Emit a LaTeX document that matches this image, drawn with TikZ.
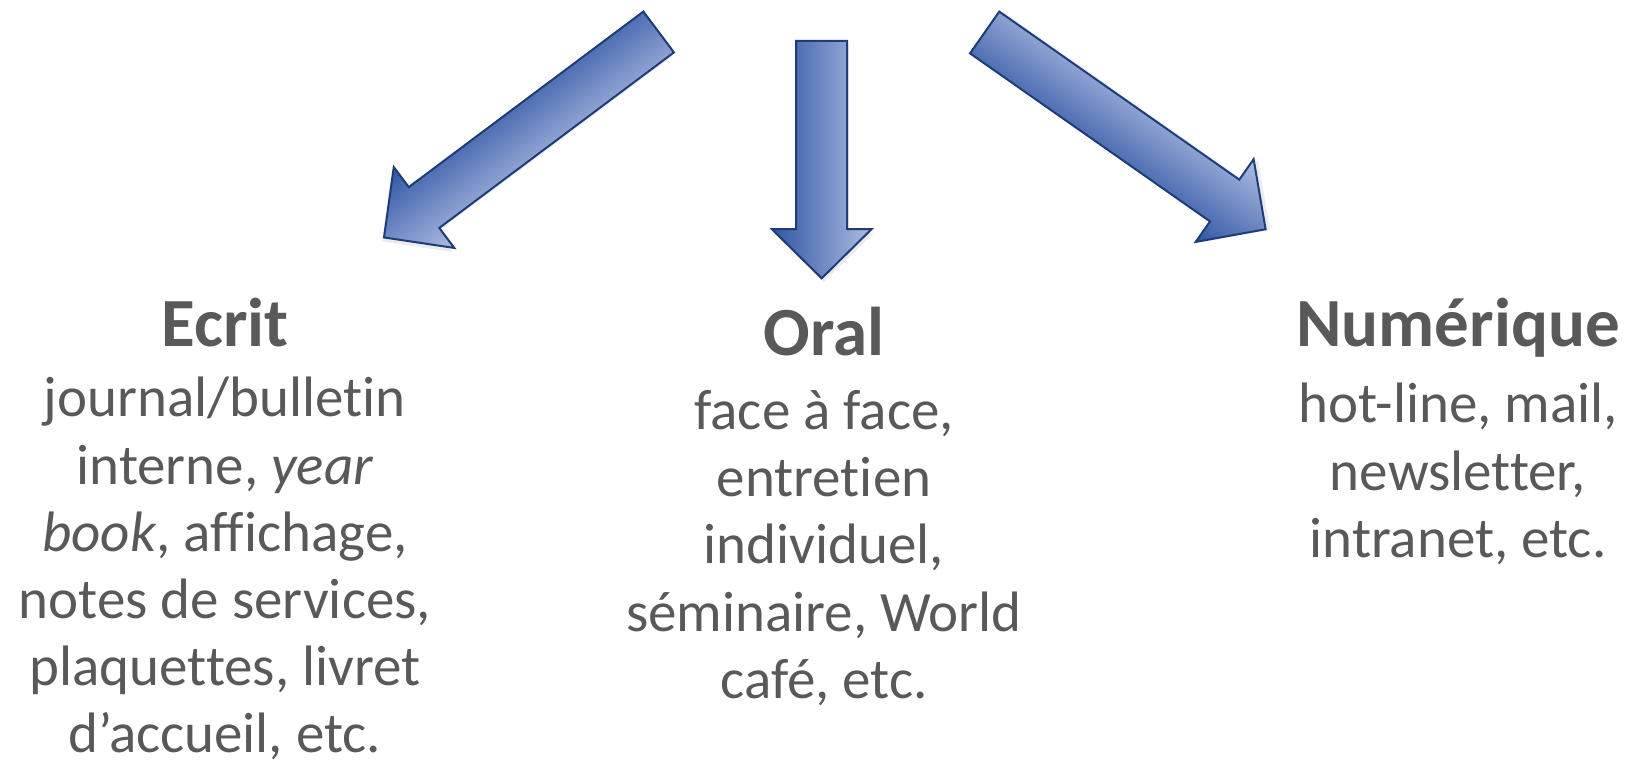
\documentclass[tikz,border=0pt]{standalone}
\usepackage{fontspec}
\setmainfont{Carlito}[Ligatures=NoCommon]
\usepackage{tikz}
\usetikzlibrary{positioning,shadows}
\definecolor{arrowdark}{HTML}{2F56A3}
\definecolor{arrowlight}{HTML}{AEBCE2}
\definecolor{arrowline}{HTML}{1F3C78}
\definecolor{textgray}{HTML}{595959}

\begin{document}
\begin{tikzpicture}[
    x=0.5pt, y=-0.5pt,
    every node/.style={text=textgray, inner sep=0pt},
    heading/.style={font=\fontsize{34.5}{40}\selectfont\bfseries, anchor=base},
    listing/.style={font=\fontsize{28.5}{33.6}\selectfont, align=center},
    blockarrow/.style={
      draw=arrowline, line width=1pt, line join=miter,
      left color=arrowdark, right color=arrowlight,
      drop shadow={opacity=0.15, shadow xshift=1pt, shadow yshift=-2pt}
    }
  ]
  \useasboundingbox (0,0) rectangle (1629,765);

  % block arrows, drawn pointing down and turned into place
  \begin{scope}[transform canvas={shift={(658.65,32)}, rotate=-53.2}]
    \shade[blockarrow] (-25.5,0) -- (25.5,0) -- (25.5,293) -- (50.5,293)
      -- (0,343) -- (-50.5,293) -- (-25.5,293) -- cycle;
  \end{scope}
  \begin{scope}[transform canvas={shift={(821.7,41)}}]
    \shade[blockarrow] (-25.5,0) -- (25.5,0) -- (25.5,188) -- (50,188)
      -- (0,237.3) -- (-50,188) -- (-25.5,188) -- cycle;
  \end{scope}
  \begin{scope}[transform canvas={shift={(984.65,32.5)}, rotate=55}]
    \shade[blockarrow] (-25.5,0) -- (25.5,0) -- (25.5,293) -- (50.5,293)
      -- (0,343) -- (-50.5,293) -- (-25.5,293) -- cycle;
  \end{scope}

  \node[heading] (ecrit) at (225,346) {Ecrit};
  \node[listing, below=15.5pt of ecrit.base] (ecritlist) {
    journal/bulletin\\
    interne, \textit{year}\\
    \textit{book}, affichage,\\
    notes de services,\\
    plaquettes, livret\\
    d’accueil, etc.
  };

  \node[heading] (oral) at (824,355) {Oral};
  \node[listing, below=17.5pt of oral.base] (orallist) {
    face à face,\\
    entretien\\
    individuel,\\
    séminaire, World\\
    café, etc.
  };

  \node[heading] (numerique) at (1458,346) {Numérique};
  \node[listing, below=18.5pt of numerique.base] (numeriquelist) {
    hot-line, mail,\\
    newsletter,\\
    intranet, etc.
  };
\end{tikzpicture}
\end{document}
